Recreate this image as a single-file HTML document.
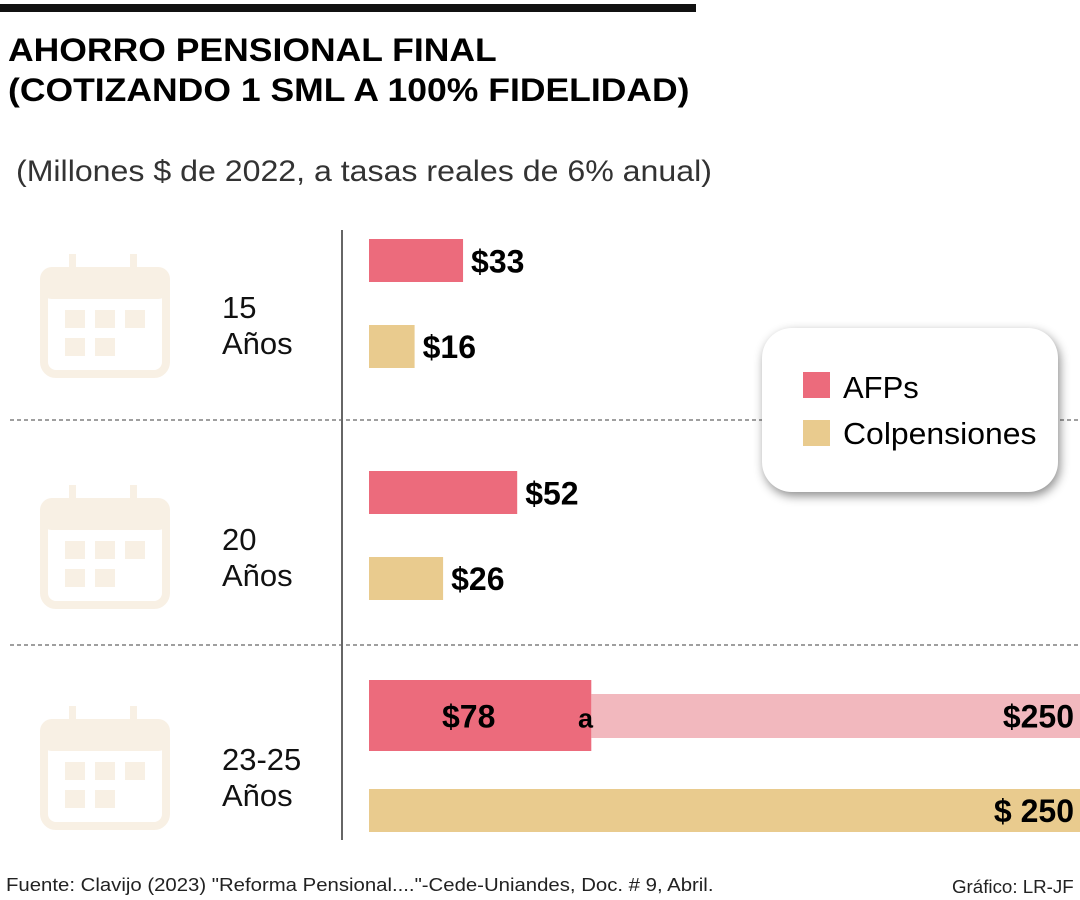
<!DOCTYPE html>
<html><head><meta charset="utf-8"><style>
body{margin:0;width:1080px;height:900px;background:#fff;font-family:"Liberation Sans",sans-serif;position:relative;overflow:hidden}
.t{position:absolute;white-space:nowrap}
</style></head><body>
<div style="position:absolute;left:0;top:4px;width:696px;height:8px;background:#111"></div>
<div class="t" style="left:8px;top:30px;font-size:32px;font-weight:bold;line-height:40px;transform:scaleX(1.11);transform-origin:left">AHORRO PENSIONAL FINAL<br>(COTIZANDO 1 SML A 100% FIDELIDAD)</div>
<div class="t" style="left:16px;top:155px;font-size:30px;color:#333;transform:scaleX(1.07);transform-origin:left">(Millones $ de 2022, a tasas reales de 6% anual)</div>
<svg id="chart" width="1080" height="900" style="position:absolute;left:0;top:0" font-family="Liberation Sans, sans-serif"></svg>
<div style="position:absolute;left:762px;top:328px;width:296px;height:164px;background:#fff;border-radius:30px;box-shadow:2px 4px 10px rgba(0,0,0,0.45)">
<div style="position:absolute;left:41px;top:44px;width:27px;height:26px;background:#ec6b7c"></div>
<div class="t" style="left:81px;top:42px;font-size:31px">AFPs</div>
<div style="position:absolute;left:41px;top:92px;width:27px;height:26px;background:#e9cb8e"></div>
<div class="t" style="left:81px;top:88px;font-size:31px;transform:scaleX(1.03);transform-origin:left">Colpensiones</div>
</div>
<div class="t" style="left:6px;top:875px;font-size:18px;color:#222;transform:scaleX(1.13);transform-origin:left">Fuente: Clavijo (2023) "Reforma Pensional...."-Cede-Uniandes, Doc. # 9, Abril.</div>
<div class="t" style="left:952px;top:877px;font-size:18px;color:#222;transform:scaleX(1.04);transform-origin:left">Gráfico: LR-JF</div>
<script>
const groups=["15","20","23-25"];
const afp=[33,52,78];
const afpHigh=[null,null,250];
const colp=[16,26,250];
const afpLabels=["$33","$52","$78"];
const colpLabels=["$16","$26","$ 250"];
const svg=document.getElementById('chart');
const NS='http://www.w3.org/2000/svg';
const x0=369,k=2.85;
const xs=v=>x0+v*k;
const gTop=[239,471,680];
function mk(tag,a,parent){const e=document.createElementNS(NS,tag);for(const n in a)e.setAttribute(n,a[n]);(parent||svg).appendChild(e);return e;}
const axis=mk('line',{x1:342,y1:230,x2:342,y2:840,stroke:'#333','stroke-width':1.5});


[420,645].forEach(y=>{const l=mk('line',{x1:10,y1:y,x2:1080,y2:y,stroke:'#666','stroke-width':1.2,'stroke-dasharray':'4,3'});

});
const cy=[254,485,706];
groups.forEach((g,i)=>{
 const c='#f8f0e4',y=cy[i];
 const ic=mk('g',{});
 
 
 mk('rect',{x:44,y:y+17,width:122,height:103,rx:12,fill:'none',stroke:c,'stroke-width':8},ic);
 mk('rect',{x:40,y:y+13,width:130,height:32,rx:12,fill:c},ic);
 mk('rect',{x:69,y:y,width:7,height:18,fill:c},ic);mk('rect',{x:130,y:y,width:7,height:18,fill:c},ic);
 [[65,56],[95,56],[125,56],[65,84],[95,84]].forEach(p=>mk('rect',{x:p[0],y:y+p[1],width:20,height:18,fill:c},ic));
 const ty=gTop[i]+(i==2?90:79);
 const t1=mk('text',{x:222,y:ty,'font-size':31,fill:'#111'});t1.textContent=g;
 
 
 const t2=mk('text',{x:222,y:ty+36,'font-size':31,fill:'#111'});t2.textContent='Años';
 
 
 let ay=gTop[i],ah=43,cyb=ay+86;
 if(i==2){ah=71;cyb=789;}
 if(afpHigh[i]!=null){
  const h=mk('rect',{x:xs(afp[i]),y:ay+14,width:xs(afpHigh[i])-xs(afp[i]),height:44,fill:'#f2b8be'});
  
  
 }
 const b=mk('rect',{x:x0,y:ay,width:xs(afp[i])-x0,height:ah,fill:'#ec6b7c'});
 
 
 const b2=mk('rect',{x:x0,y:cyb,width:xs(colp[i])-x0,height:43,fill:'#e9cb8e'});
 
 
 const fs=32;
 let l1;
 if(afpHigh[i]!=null){
  l1=mk('text',{x:442,y:ay+ah/2+12,'font-size':fs,'font-weight':'bold'});l1.textContent=afpLabels[i];
  const a=mk('text',{x:578,y:ay+ah/2+12,'font-size':27,'font-weight':'bold'});a.textContent='a';
  
  
  const hv=mk('text',{x:1074,y:ay+ah/2+12,'font-size':fs,'font-weight':'bold','text-anchor':'end'});hv.textContent='$'+afpHigh[i];
  
  
 } else {
  l1=mk('text',{x:xs(afp[i])+8,y:ay+ah/2+12,'font-size':fs,'font-weight':'bold'});l1.textContent=afpLabels[i];
 }
 
 
 const full=xs(colp[i])>1000;
 const l2=mk('text',{x:full?1074:xs(colp[i])+8,y:cyb+33,'font-size':fs,'font-weight':'bold','text-anchor':full?'end':'start'});l2.textContent=colpLabels[i];
 
 
});
</script>
</body></html>
